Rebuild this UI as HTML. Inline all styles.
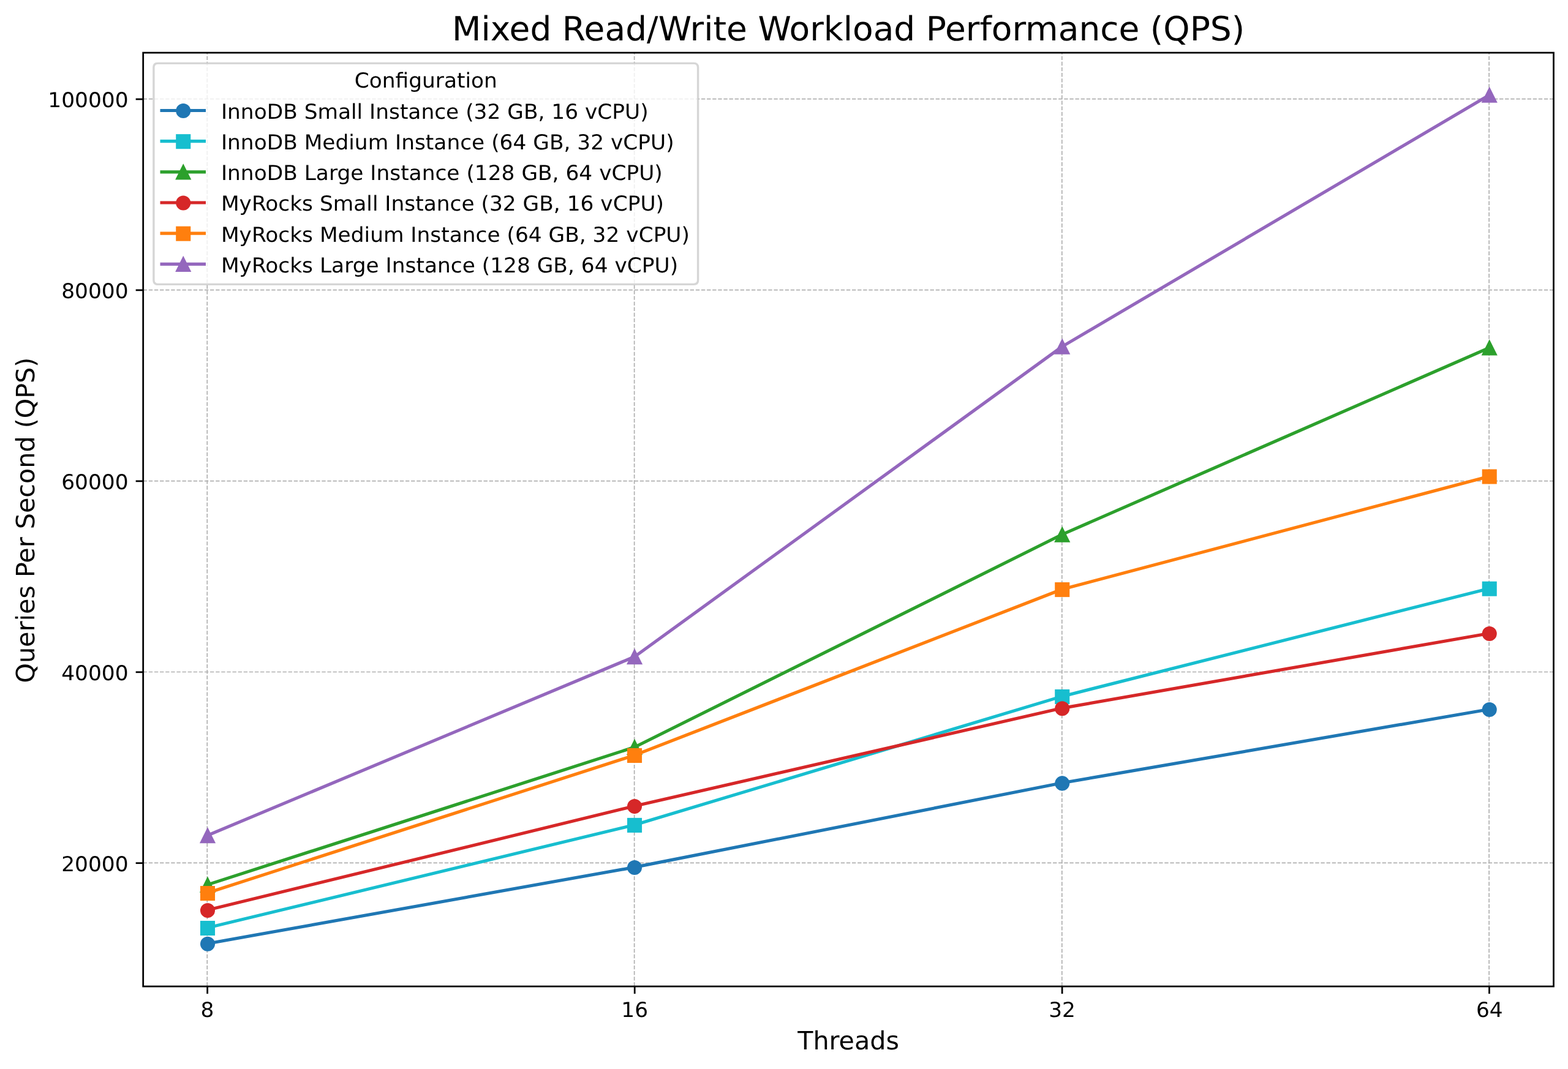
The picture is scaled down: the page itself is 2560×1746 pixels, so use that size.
<!DOCTYPE html>
<html lang="en">
<head>
<meta charset="utf-8">
<title>Mixed Read/Write Workload Performance (QPS)</title>
<style>
html,body{margin:0;padding:0;background:#fff;}
body{width:2560px;height:1746px;overflow:hidden;}
svg{display:block;}
text{font-family:'DejaVu Sans','Liberation Sans',sans-serif;fill:#000;}
.t10{font-size:34.39px;}
.t12{font-size:41.26px;}
.t16{font-size:55.02px;}
</style>
</head>
<body>
<svg width="2560" height="1746" viewBox="0 0 2560 1746" text-rendering="geometricPrecision">
<rect x="0" y="0" width="2560" height="1746" fill="#ffffff"/>
<defs><clipPath id="axclip"><rect x="233.7" y="86" width="2302.8" height="1525.1"/></clipPath></defs>

<g id="grid" clip-path="url(#axclip)" fill="none" stroke="#b0b0b0" stroke-width="1.72" stroke-dasharray="6.3615 2.7509">
<path d="M338.27 1610.7L338.27 86"/>
<path d="M1035.65 1610.7L1035.65 86"/>
<path d="M1733.8 1610.7L1733.8 86"/>
<path d="M2431.15 1610.7L2431.15 86"/>
<path d="M233.7 1409.4L2536.5 1409.4"/>
<path d="M233.7 1097.5L2536.5 1097.5"/>
<path d="M233.7 785.55L2536.5 785.55"/>
<path d="M233.7 473.6L2536.5 473.6"/>
<path d="M233.7 161.7L2536.5 161.7"/>
</g>
<g id="ticks" stroke="#000" stroke-width="2.75" fill="none">
<path d="M338.6 1611.1L338.6 1623.14"/>
<path d="M1036.2 1611.1L1036.2 1623.14"/>
<path d="M1734.1 1611.1L1734.1 1623.14"/>
<path d="M2431.5 1611.1L2431.5 1623.14"/>
<path d="M233.7 1409.7L221.66 1409.7"/>
<path d="M233.7 1097.8L221.66 1097.8"/>
<path d="M233.7 785.85L221.66 785.85"/>
<path d="M233.7 473.9L221.66 473.9"/>
<path d="M233.7 162L221.66 162"/>
</g>
<g id="series" clip-path="url(#axclip)">
<polyline points="338.4,1541.2 1036.2,1416.4 1734,1278.8 2431.8,1158.4" fill="none" stroke="#1f77b4" stroke-width="5.16" stroke-linejoin="round" stroke-linecap="square"/>
<circle cx="339" cy="1541.8" r="10.32" fill="#1f77b4" stroke="#1f77b4" stroke-width="3.44"/>
<circle cx="1036.05" cy="1417" r="10.32" fill="#1f77b4" stroke="#1f77b4" stroke-width="3.44"/>
<circle cx="1734.25" cy="1279.4" r="10.32" fill="#1f77b4" stroke="#1f77b4" stroke-width="3.44"/>
<circle cx="2431.75" cy="1159" r="10.32" fill="#1f77b4" stroke="#1f77b4" stroke-width="3.44"/>
<polyline points="338.4,1515.4 1036.2,1347.3 1734,1137.4 2431.8,961.1" fill="none" stroke="#17becf" stroke-width="5.16" stroke-linejoin="round" stroke-linecap="square"/>
<rect x="328.68" y="1505.68" width="20.63" height="20.63" fill="#17becf" stroke="#17becf" stroke-width="3.44" stroke-linejoin="miter"/>
<rect x="1025.73" y="1337.58" width="20.63" height="20.63" fill="#17becf" stroke="#17becf" stroke-width="3.44" stroke-linejoin="miter"/>
<rect x="1723.93" y="1127.68" width="20.63" height="20.63" fill="#17becf" stroke="#17becf" stroke-width="3.44" stroke-linejoin="miter"/>
<rect x="2421.43" y="951.38" width="20.63" height="20.63" fill="#17becf" stroke="#17becf" stroke-width="3.44" stroke-linejoin="miter"/>
<polyline points="338.4,1445.1 1036.2,1220.3 1734,873 2431.8,567.8" fill="none" stroke="#2ca02c" stroke-width="5.16" stroke-linejoin="round" stroke-linecap="square"/>
<path d="M339 1435.38L328.68 1456.02L349.32 1456.02Z" fill="#2ca02c" stroke="#2ca02c" stroke-width="3.44" stroke-linejoin="miter" stroke-miterlimit="10"/>
<path d="M1036.05 1210.58L1025.73 1231.22L1046.37 1231.22Z" fill="#2ca02c" stroke="#2ca02c" stroke-width="3.44" stroke-linejoin="miter" stroke-miterlimit="10"/>
<path d="M1734.25 863.28L1723.93 883.92L1744.57 883.92Z" fill="#2ca02c" stroke="#2ca02c" stroke-width="3.44" stroke-linejoin="miter" stroke-miterlimit="10"/>
<path d="M2431.75 558.08L2421.43 578.72L2442.07 578.72Z" fill="#2ca02c" stroke="#2ca02c" stroke-width="3.44" stroke-linejoin="miter" stroke-miterlimit="10"/>
<polyline points="338.4,1486.5 1036.2,1316.5 1734,1156.6 2431.8,1034.4" fill="none" stroke="#d62728" stroke-width="5.16" stroke-linejoin="round" stroke-linecap="square"/>
<circle cx="339" cy="1487.1" r="10.32" fill="#d62728" stroke="#d62728" stroke-width="3.44"/>
<circle cx="1036.05" cy="1317.1" r="10.32" fill="#d62728" stroke="#d62728" stroke-width="3.44"/>
<circle cx="1734.25" cy="1157.2" r="10.32" fill="#d62728" stroke="#d62728" stroke-width="3.44"/>
<circle cx="2431.75" cy="1035" r="10.32" fill="#d62728" stroke="#d62728" stroke-width="3.44"/>
<polyline points="338.4,1458.5 1036.2,1233.4 1734,962.5 2431.8,777.9" fill="none" stroke="#ff7f0e" stroke-width="5.16" stroke-linejoin="round" stroke-linecap="square"/>
<rect x="328.68" y="1448.78" width="20.63" height="20.63" fill="#ff7f0e" stroke="#ff7f0e" stroke-width="3.44" stroke-linejoin="miter"/>
<rect x="1025.73" y="1223.68" width="20.63" height="20.63" fill="#ff7f0e" stroke="#ff7f0e" stroke-width="3.44" stroke-linejoin="miter"/>
<rect x="1723.93" y="952.78" width="20.63" height="20.63" fill="#ff7f0e" stroke="#ff7f0e" stroke-width="3.44" stroke-linejoin="miter"/>
<rect x="2421.43" y="768.18" width="20.63" height="20.63" fill="#ff7f0e" stroke="#ff7f0e" stroke-width="3.44" stroke-linejoin="miter"/>
<polyline points="338.4,1364.6 1036.2,1072.5 1734,566.1 2431.8,155.1" fill="none" stroke="#9467bd" stroke-width="5.16" stroke-linejoin="round" stroke-linecap="square"/>
<path d="M339 1354.88L328.68 1375.52L349.32 1375.52Z" fill="#9467bd" stroke="#9467bd" stroke-width="3.44" stroke-linejoin="miter" stroke-miterlimit="10"/>
<path d="M1036.05 1062.78L1025.73 1083.42L1046.37 1083.42Z" fill="#9467bd" stroke="#9467bd" stroke-width="3.44" stroke-linejoin="miter" stroke-miterlimit="10"/>
<path d="M1734.25 556.38L1723.93 577.02L1744.57 577.02Z" fill="#9467bd" stroke="#9467bd" stroke-width="3.44" stroke-linejoin="miter" stroke-miterlimit="10"/>
<path d="M2431.75 145.38L2421.43 166.02L2442.07 166.02Z" fill="#9467bd" stroke="#9467bd" stroke-width="3.44" stroke-linejoin="miter" stroke-miterlimit="10"/>
</g>
<rect id="spines" x="233.7" y="86.1" width="2302.8" height="1525" fill="none" stroke="#000" stroke-width="2.75" stroke-linejoin="miter"/>
<text class="t10" transform="translate(338.4 1661.2) scale(1 0.98)" text-anchor="middle">8</text>
<text class="t10" transform="translate(1036.2 1661.2) scale(1 0.98)" text-anchor="middle">16</text>
<text class="t10" transform="translate(1734 1661.2) scale(1 0.98)" text-anchor="middle">32</text>
<text class="t10" transform="translate(2431.8 1661.2) scale(1 0.98)" text-anchor="middle">64</text>
<text class="t10" transform="translate(209.6 1422.5) scale(1 0.98)" text-anchor="end">20000</text>
<text class="t10" transform="translate(209.6 1110.6) scale(1 0.98)" text-anchor="end">40000</text>
<text class="t10" transform="translate(209.6 798.65) scale(1 0.98)" text-anchor="end">60000</text>
<text class="t10" transform="translate(209.6 486.7) scale(1 0.98)" text-anchor="end">80000</text>
<text class="t10" transform="translate(209.6 174.8) scale(1 0.98)" text-anchor="end">100000</text>
<text class="t12" x="1385.1" y="1713.6" text-anchor="middle">Threads</text>
<text class="t12" transform="translate(56.1 849.55) rotate(-90)" text-anchor="middle">Queries Per Second (QPS)</text>
<text class="t16" transform="translate(1385.1 66) scale(1 0.99)" text-anchor="middle">Mixed Read/Write Workload Performance (QPS)</text>
<g id="legend">
<path d="M257.78 464.4L1132.72 464.4Q1139.6 464.4 1139.6 457.52L1139.6 110.28Q1139.6 103.4 1132.72 103.4L257.78 103.4Q250.9 103.4 250.9 110.28L250.9 457.52Q250.9 464.4 257.78 464.4Z" fill="#ffffff" fill-opacity="0.8" stroke="#cccccc" stroke-opacity="0.8" stroke-width="3.44" stroke-linejoin="miter"/>
<text class="t10" transform="translate(695.25 142.6) scale(1 0.98)" text-anchor="middle">Configuration</text>
<path d="M261.5 180.5L336 180.5" fill="none" stroke="#1f77b4" stroke-width="5.16"/>
<circle cx="299.24" cy="181" r="10.32" fill="#1f77b4" stroke="#1f77b4" stroke-width="3.44"/>
<text class="t10" transform="translate(360.94 193.9) scale(1 0.98)">InnoDB Small Instance (32 GB, 16 vCPU)</text>
<path d="M261.5 230.67L336 230.67" fill="none" stroke="#17becf" stroke-width="5.16"/>
<rect x="288.93" y="220.85" width="20.63" height="20.63" fill="#17becf" stroke="#17becf" stroke-width="3.44" stroke-linejoin="miter"/>
<text class="t10" transform="translate(360.94 244.07) scale(1 0.98)">InnoDB Medium Instance (64 GB, 32 vCPU)</text>
<path d="M261.5 280.84L336 280.84" fill="none" stroke="#2ca02c" stroke-width="5.16"/>
<path d="M299.24 271.02L288.93 291.66L309.56 291.66Z" fill="#2ca02c" stroke="#2ca02c" stroke-width="3.44" stroke-linejoin="miter" stroke-miterlimit="10"/>
<text class="t10" transform="translate(360.94 294.24) scale(1 0.98)">InnoDB Large Instance (128 GB, 64 vCPU)</text>
<path d="M261.5 331.01L336 331.01" fill="none" stroke="#d62728" stroke-width="5.16"/>
<circle cx="299.24" cy="331.51" r="10.32" fill="#d62728" stroke="#d62728" stroke-width="3.44"/>
<text class="t10" transform="translate(360.94 344.41) scale(1 0.98)">MyRocks Small Instance (32 GB, 16 vCPU)</text>
<path d="M261.5 381.18L336 381.18" fill="none" stroke="#ff7f0e" stroke-width="5.16"/>
<rect x="288.93" y="371.36" width="20.63" height="20.63" fill="#ff7f0e" stroke="#ff7f0e" stroke-width="3.44" stroke-linejoin="miter"/>
<text class="t10" transform="translate(360.94 394.58) scale(1 0.98)">MyRocks Medium Instance (64 GB, 32 vCPU)</text>
<path d="M261.5 431.35L336 431.35" fill="none" stroke="#9467bd" stroke-width="5.16"/>
<path d="M299.24 421.53L288.93 442.17L309.56 442.17Z" fill="#9467bd" stroke="#9467bd" stroke-width="3.44" stroke-linejoin="miter" stroke-miterlimit="10"/>
<text class="t10" transform="translate(360.94 444.75) scale(1 0.98)">MyRocks Large Instance (128 GB, 64 vCPU)</text>
</g>
</svg>
</body>
</html>
